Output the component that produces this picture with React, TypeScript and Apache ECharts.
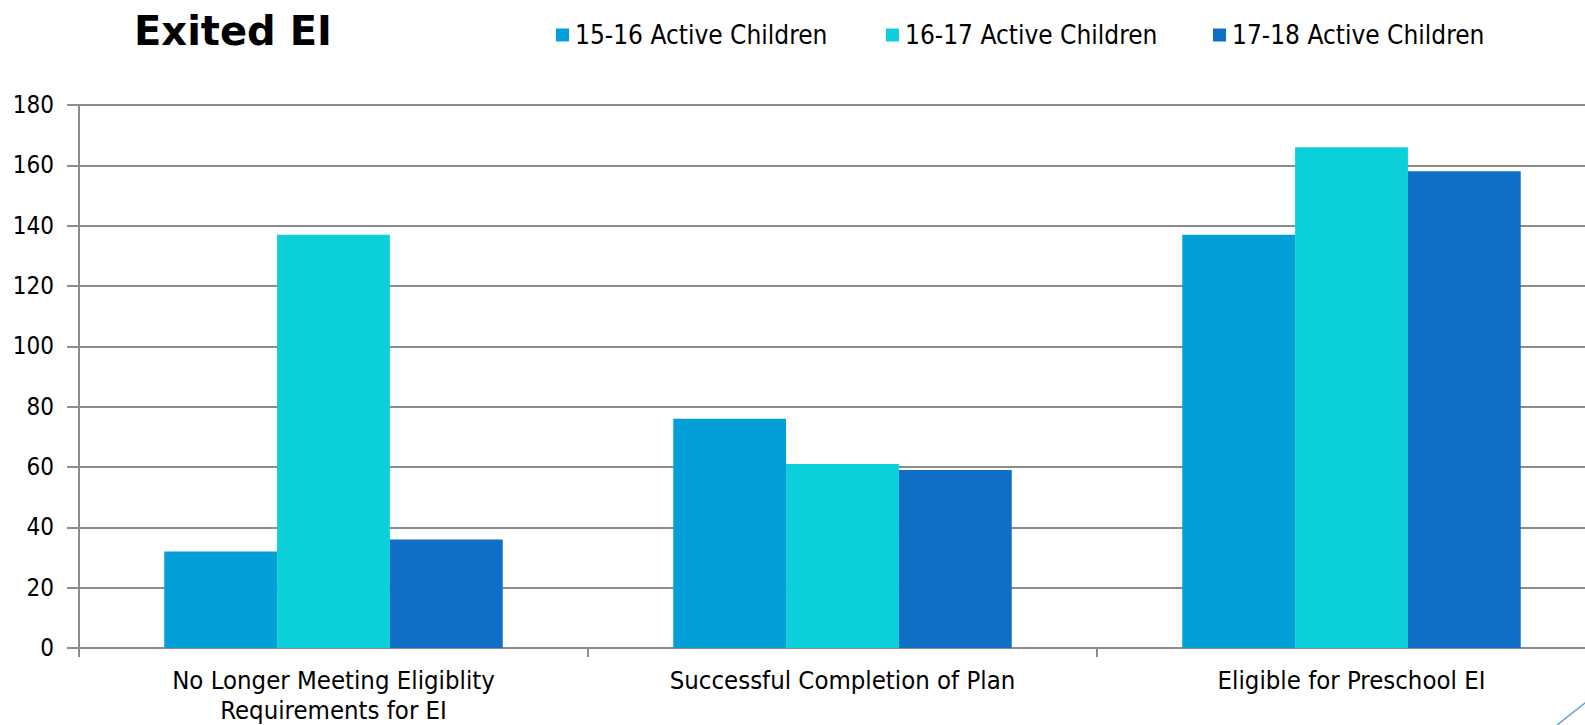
import React, { useEffect, useRef } from "react";
import * as echarts from "echarts";

const categories = [
  "No Longer Meeting Eligiblity\nRequirements for EI",
  "Successful Completion of Plan",
  "Eligible for Preschool EI",
];
const seriesNames = ["15-16 Active Children", "16-17 Active Children", "17-18 Active Children"];
const values1516 = [32, 76, 137];
const values1617 = [137, 61, 166];
const values1718 = [36, 59, 158];
const colors = ["#039FD9", "#0CD0D9", "#0F6FC6"];
const legendLefts = [556, 886, 1213];

const FONT = "'DejaVu Sans Condensed', 'DejaVu Sans', sans-serif";

export default function App() {
  const ref = useRef<HTMLDivElement>(null);
  useEffect(() => {
    const chart = echarts.init(ref.current!, null, { renderer: "svg" });
    const data = [values1516, values1617, values1718];
    chart.setOption({
      animation: false,
      backgroundColor: "#ffffff",
      title: {
        text: "Exited EI",
        left: 134,
        top: 11,
        padding: 0,
        textStyle: { fontFamily: "'DejaVu Sans', sans-serif", fontWeight: "bold", fontSize: 40, lineHeight: 40, color: "#000" },
      },
      legend: seriesNames.map((n, i) => ({
        data: [n],
        left: legendLefts[i],
        top: 22,
        padding: 0,
        icon: "rect",
        itemWidth: 13,
        itemHeight: 13,
        itemGap: 0,
        textStyle: { fontFamily: FONT, fontSize: 26, lineHeight: 26, color: "#000", padding: [0, 0, 0, 1] },
      })),
      grid: { left: 79, right: 0, top: 105, bottom: 77, containLabel: false, outerBoundsMode: "none" },
      xAxis: {
        type: "category",
        data: categories,
        axisLine: { lineStyle: { color: "#8C8C8C", width: 2 } },
        axisTick: { show: true, length: 9, interval: 0, alignWithLabel: false, lineStyle: { color: "#8C8C8C", width: 2 } },
        axisLabel: { fontFamily: FONT, fontSize: 25.5, lineHeight: 30, color: "#000", margin: 17, interval: 0 },
      },
      yAxis: {
        type: "value",
        min: 0,
        max: 180,
        interval: 20,
        axisLine: { show: true, lineStyle: { color: "#8C8C8C", width: 2 } },
        axisTick: { show: true, length: 12, lineStyle: { color: "#8C8C8C", width: 2 } },
        splitLine: { show: true, lineStyle: { color: "#8C8C8C", width: 2 } },
        axisLabel: { fontFamily: FONT, fontSize: 24, color: "#000", margin: 25 },
      },
      series: seriesNames.map((n, i) => ({
        name: n,
        type: "bar",
        data: data[i],
        barGap: "0%",
        barCategoryGap: "33.5%",
        itemStyle: { color: colors[i] },
      })),
      graphic: [
        {
          type: "line",
          shape: { x1: 1557, y1: 725, x2: 1590, y2: 699 },
          style: { stroke: "#5B9BD5", lineWidth: 1.5 },
        },
      ],
    });
    return () => chart.dispose();
  }, []);
  return (
    <div
      ref={ref}
      style={{ position: "fixed", left: 0, top: 0, width: 1606, height: 725, overflow: "hidden" }}
    />
  );
}
